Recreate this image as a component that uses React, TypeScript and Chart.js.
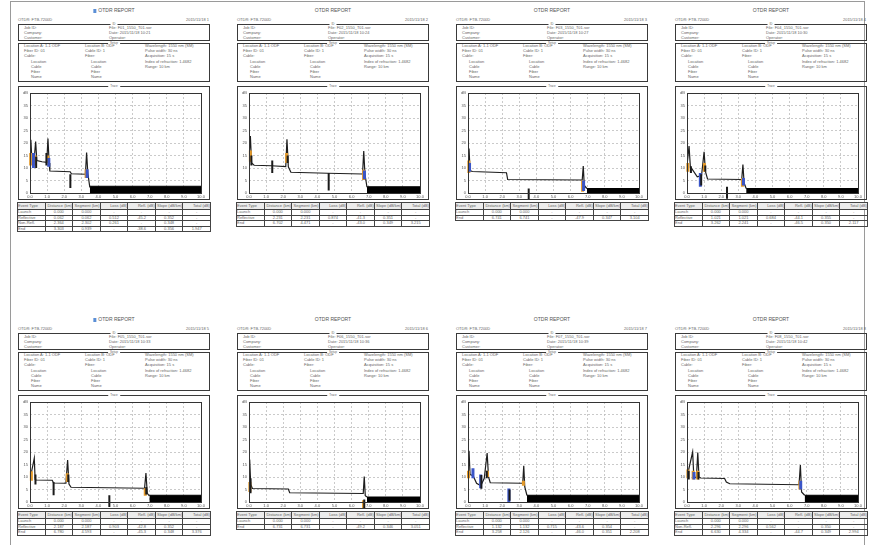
import React, { useEffect, useRef } from 'react';
import { Chart, registerables } from 'chart.js';

Chart.register(...registerables);

type Pt = [number, number];
type Ev = [number, number, number, string];

// ---- axis ticks ----
const distanceLabels = ['0.0', '1.0', '2.0', '3.0', '4.0', '5.0', '6.0', '7.0', '8.0', '9.0', '10.0'];
const levelLabels = ['0', '5', '10', '15', '20', '25', '30', '35', 'dB'];

// ---- traces (distance km, level dB) ----
const trace1: Pt[] = [[0, 12.0], [0.05, 21.3], [0.1, 14.5], [0.25, 14.0], [0.33, 20.6], [0.4, 13.0], [0.7, 12.5], [0.98, 12.3], [1.05, 21.8], [1.12, 12.0], [1.16, 8.8], [2.35, 8.5], [2.42, 7.7], [3.24, 7.5], [3.31, 16.2], [3.38, 8.0], [3.5, 2.2]];
const trace2: Pt[] = [[0, 14.0], [0.08, 22.8], [0.15, 12.0], [0.3, 11.1], [1.3, 10.9], [2.15, 10.6], [2.22, 21.5], [2.3, 10.5], [2.45, 8.3], [4.6, 7.9], [6.64, 7.6], [6.71, 16.8], [6.78, 7.6], [6.9, 2.3]];
const trace3: Pt[] = [[0, 13.0], [0.06, 17.8], [0.12, 9.0], [0.25, 8.6], [2.25, 8.1], [2.32, 5.4], [6.68, 5.2], [6.74, 10.8], [6.8, 3.0], [6.95, 1.8]];
const trace4: Pt[] = [[0, 11.0], [0.12, 18.8], [0.2, 10.0], [0.3, 9.5], [0.6, 6.5], [0.85, 7.0], [1.0, 16.5], [1.08, 8.5], [1.2, 5.6], [3.2, 5.4], [3.27, 11.4], [3.34, 4.0], [3.46, 1.8]];
const trace5: Pt[] = [[0, 9.0], [0.25, 17.5], [0.3, 9.0], [0.35, 8.8], [1.3, 8.7], [1.38, 7.6], [2.1, 7.5], [2.2, 16.8], [2.28, 7.2], [2.4, 5.9], [6.7, 5.5], [6.78, 11.6], [6.86, 3.5], [6.98, 2.4]];
const trace6: Pt[] = [[0, 9.0], [0.04, 17.0], [0.1, 7.0], [0.2, 5.4], [2.3, 5.2], [2.38, 3.7], [6.68, 3.4], [6.74, 10.2], [6.8, 2.5], [6.9, 2.0]];
const trace7: Pt[] = [[0, 10.0], [0.06, 20.5], [0.12, 11.0], [0.3, 10.5], [0.5, 7.5], [0.75, 6.5], [0.95, 9.5], [1.12, 19.6], [1.2, 10.0], [1.3, 7.7], [3.2, 7.5], [3.26, 14.5], [3.32, 6.0], [3.45, 2.6]];
const trace8: Pt[] = [[0, 10.0], [0.33, 20.0], [0.4, 10.0], [0.55, 9.8], [0.63, 19.8], [0.7, 10.0], [0.8, 9.6], [2.2, 9.4], [2.3, 8.0], [2.5, 7.3], [6.55, 6.9], [6.63, 14.8], [6.7, 4.0], [6.88, 2.7]];

// ---- noise floor: start distance, level ----
const noise1: Pt = [3.5, 2.7];
const noise2: Pt = [6.9, 2.5];
const noise3: Pt = [6.95, 1.8];
const noise4: Pt = [3.46, 1.8];
const noise5: Pt = [6.98, 2.7];
const noise6: Pt = [6.9, 2.0];
const noise7: Pt = [3.45, 2.7];
const noise8: Pt = [6.88, 2.7];

// ---- event markers: distance, low dB, high dB, kind (o/b/k) ----
const events1: Ev[] = [[0.04, 11, 16, 'o'], [0.2, 10, 16, 'b'], [0.3, 11, 15, 'o'], [0.36, 10, 14.5, 'k'], [0.96, 11, 16, 'k'], [1.03, 12, 15, 'o'], [1.1, 10.5, 14, 'b'], [2.36, 2, 7.5, 'k'], [3.28, 6, 9.5, 'o'], [3.34, 6, 9.5, 'b']];
const events2: Ev[] = [[0.08, 12.5, 17, 'o'], [0.14, 11, 15, 'k'], [1.36, 8, 13, 'k'], [2.2, 12, 16, 'o'], [2.26, 12, 15, 'k'], [4.66, 1, 8, 'k'], [6.7, 5.2, 9.3, 'o'], [6.75, 5.5, 9, 'b']];
const events3: Ev[] = [[0.05, 8, 13, 'o'], [0.09, 8.5, 12, 'b'], [3.55, -3, 1.8, 'k'], [6.7, 0.5, 5, 'o'], [6.76, 0.8, 5, 'b']];
const events4: Ev[] = [[0.05, 8.5, 12, 'o'], [0.23, 8, 10.7, 'k'], [0.78, 2.5, 8, 'b'], [0.83, 3, 7.5, 'k'], [1.02, 8.5, 12, 'o'], [1.07, 8.5, 11, 'k'], [2.34, -2.3, 2.5, 'k'], [3.24, 2.5, 6, 'o'], [3.3, 3, 6, 'b']];
const events5: Ev[] = [[0.08, 8.5, 12.3, 'o'], [0.32, 7, 11, 'k'], [1.38, 2.7, 8, 'k'], [2.18, 8, 11.5, 'o'], [2.24, 8, 11, 'k'], [4.64, -2, 2.7, 'k'], [6.74, 2.5, 5.5, 'o'], [6.8, 3, 6, 'k']];
const events6: Ev[] = [[0.05, 4, 8, 'o'], [0.09, 3.5, 9.5, 'k'], [6.7, -3.4, 0.7, 'o'], [6.74, -3, 1, 'k']];
const events7: Ev[] = [[0.03, 9.5, 12.5, 'o'], [0.29, 9.5, 13.5, 'b'], [0.74, 5.5, 11, 'b'], [0.78, 5.3, 10.8, 'k'], [1.1, 9.5, 12.5, 'k'], [1.14, 10, 12.5, 'o'], [2.39, 0, 5.4, 'b'], [2.43, 0.5, 5, 'k'], [3.24, 6.5, 8.5, 'o']];
const events8: Ev[] = [[0.05, 9.5, 13, 'o'], [0.1, 9, 12.5, 'k'], [0.36, 9, 12.5, 'o'], [0.41, 9, 12, 'b'], [0.62, 9, 12.5, 'o'], [0.67, 9, 12, 'k'], [6.6, 5, 8.5, 'o'], [6.65, 5, 8.5, 'b']];

// ---- texts ----
const reportTitle = 'OTDR REPORT';
const headerLeft = 'OTDR: FTB-7200D';
const headerDates = ['2015/11/18 1', '2015/11/18 2', '2015/11/18 3', '2015/11/18 4', '2015/11/18 5', '2015/11/18 6', '2015/11/18 7', '2015/11/18 8'];
const jobLabels = ['Job ID:', 'Company:', 'Customer:'];
const fileNames = ['File: F01_1550_T01.sor', 'File: F02_1550_T01.sor', 'File: F03_1550_T01.sor', 'File: F04_1550_T01.sor', 'File: F05_1550_T01.sor', 'File: F06_1550_T01.sor', 'File: F07_1550_T01.sor', 'File: F08_1550_T01.sor'];
const fileDates = ['Date: 2015/11/18 10:21', 'Date: 2015/11/18 10:24', 'Date: 2015/11/18 10:27', 'Date: 2015/11/18 10:30', 'Date: 2015/11/18 10:33', 'Date: 2015/11/18 10:36', 'Date: 2015/11/18 10:39', 'Date: 2015/11/18 10:42'];
const setupColA = ['Location A: 1-1 ODF', 'Fiber ID: 01', 'Cable:'];
const setupColAsub = ['Location', 'Cable', 'Fiber', 'Name'];
const setupColB = ['Location B: ODF', 'Cable ID: 1', 'Fiber:'];
const setupColC = ['Wavelength: 1550 nm (SM)', 'Pulse width: 30 ns', 'Acquisition: 15 s', 'Index of refraction: 1.4682', 'Range: 10 km'];
const tableHeader = ['Event Type', 'Distance (km)', 'Segment (km)', 'Loss (dB)', 'Refl. (dB)', 'Slope (dB/km)', 'Total (dB)'];
const rows1 = [['Launch', '0.000', '0.000', '-', '-', '-', '-'], ['Reflective', '0.062', '0.062', '0.512', '-45.2', '0.352', '-'], ['Non-Refl.', '2.364', '2.302', '0.261', '-', '0.348', '-'], ['End', '3.303', '0.939', '-', '-38.6', '0.356', '1.947']];
const rows2 = [['Launch', '0.000', '0.000', '-', '-', '-', '-'], ['Reflective', '2.231', '2.231', '0.874', '-41.3', '0.351', '-'], ['End', '6.702', '4.471', '-', '-43.0', '0.349', '3.215']];
const rows3 = [['Launch', '0.000', '0.000', '-', '-', '-', '-'], ['End', '6.741', '6.741', '-', '-47.9', '0.347', '3.104']];
const rows4 = [['Launch', '0.000', '0.000', '-', '-', '-', '-'], ['Reflective', '1.021', '1.021', '0.684', '-44.1', '0.355', '-'], ['End', '3.262', '2.241', '-', '-46.5', '0.350', '2.117']];
const rows5 = [['Launch', '0.000', '0.000', '-', '-', '-', '-'], ['Reflective', '2.187', '2.187', '0.903', '-42.8', '0.352', '-'], ['End', '6.780', '4.593', '-', '-45.3', '0.348', '3.376']];
const rows6 = [['Launch', '0.000', '0.000', '-', '-', '-', '-'], ['End', '6.731', '6.731', '-', '-49.2', '0.346', '3.051']];
const rows7 = [['Launch', '0.000', '0.000', '-', '-', '-', '-'], ['Reflective', '1.132', '1.132', '0.715', '-43.6', '0.354', '-'], ['End', '3.258', '2.126', '-', '-46.0', '0.351', '2.208']];
const rows8 = [['Launch', '0.000', '0.000', '-', '-', '-', '-'], ['Non-Refl.', '2.296', '2.296', '0.562', '-', '0.350', '-'], ['End', '6.630', '4.334', '-', '-44.7', '0.349', '2.994']];

const pageLefts = [17, 236, 455, 674];
const rowTops = [10, 319];

const pages = [
  { trace: trace1, noise: noise1, events: events1, rows: rows1 },
  { trace: trace2, noise: noise2, events: events2, rows: rows2 },
  { trace: trace3, noise: noise3, events: events3, rows: rows3 },
  { trace: trace4, noise: noise4, events: events4, rows: rows4 },
  { trace: trace5, noise: noise5, events: events5, rows: rows5 },
  { trace: trace6, noise: noise6, events: events6, rows: rows6 },
  { trace: trace7, noise: noise7, events: events7, rows: rows7 },
  { trace: trace8, noise: noise8, events: events8, rows: rows8 },
];

const markerColors: Record<string, string> = { o: '#e49a2a', b: '#3a55c8', k: '#1a1a1a' };

const framePlugin = {
  id: 'plotFrame',
  afterDatasetsDraw(chart: any) {
    const { ctx, chartArea: a } = chart;
    ctx.save();
    ctx.strokeStyle = '#333';
    ctx.lineWidth = 1;
    ctx.strokeRect(Math.round(a.left) + 0.5, Math.round(a.top) + 0.5, Math.round(a.right - a.left), Math.round(a.bottom - a.top));
    ctx.restore();
  },
};

function buildConfig(idx: number): any {
  const p = pages[idx];
  const markerSets = ['k', 'b', 'o'].map((kind) => ({
    data: p.events
      .filter((e) => e[3] === kind)
      .flatMap((e) => [{ x: e[0], y: e[1] }, { x: e[0], y: e[2] }, { x: e[0], y: null }]),
    borderColor: markerColors[kind],
    borderWidth: kind === 'k' ? 2 : 3,
    pointRadius: 0,
    spanGaps: false,
    fill: false,
    clip: false,
    order: 0,
  }));
  return {
    type: 'line',
    data: {
      datasets: [
        ...markerSets,
        {
          data: p.trace.map(([x, y]) => ({ x, y })),
          borderColor: '#1e1e1e',
          borderWidth: 1.2,
          pointRadius: 0,
          fill: false,
          order: 1,
        },
        {
          data: [{ x: p.noise[0], y: p.noise[1] }, { x: 10, y: p.noise[1] }],
          borderColor: '#000',
          backgroundColor: '#000',
          borderWidth: 1,
          pointRadius: 0,
          fill: 'origin',
          order: 2,
        },
      ],
    },
    options: {
      animation: false,
      responsive: false,
      maintainAspectRatio: false,
      events: [],
      layout: { padding: { top: 6, right: 9, left: 0, bottom: 0 } },
      plugins: { legend: { display: false }, tooltip: { enabled: false } },
      scales: {
        x: {
          type: 'linear',
          min: 0,
          max: 10,
          ticks: {
            stepSize: 1,
            autoSkip: false,
            maxRotation: 0,
            padding: 1,
            color: '#555',
            font: { size: 4, family: 'Liberation Sans, Arial, sans-serif' },
            callback: (_v: any, i: number) => distanceLabels[i],
          },
          grid: { color: '#bdbdbd', drawTicks: false, lineWidth: 0.8 },
          border: { display: false, dash: [2, 2] },
          afterFit: (s: any) => { s.height = 6; },
        },
        y: {
          min: 0,
          max: 40,
          ticks: {
            stepSize: 5,
            padding: 2,
            color: '#555',
            font: { size: 4, family: 'Liberation Sans, Arial, sans-serif' },
            callback: (_v: any, i: number) => levelLabels[i],
          },
          grid: { color: '#bdbdbd', drawTicks: false, lineWidth: 0.8 },
          border: { display: false, dash: [2, 2] },
          afterFit: (s: any) => { s.width = 11; },
        },
      },
    },
    plugins: [framePlugin],
  };
}

const txt: React.CSSProperties = {
  position: 'absolute',
  fontSize: 4,
  lineHeight: '5px',
  whiteSpace: 'nowrap',
  color: '#666',
};

const boxStyle = (left: number, top: number, width: number, height: number): React.CSSProperties => ({
  position: 'absolute',
  left,
  top,
  width,
  height,
  border: '1px solid #3a3a3a',
  boxSizing: 'border-box',
});

function Tab({ x, y, label }: { x: number; y: number; label: string }) {
  return (
    <div style={{ ...txt, left: x, top: y - 2, fontSize: 3, lineHeight: '4px', transform: 'translateX(-50%)', background: '#fff', padding: '0 2px' }}>{label}</div>
  );
}

function Page({ idx }: { idx: number }) {
  const ref = useRef<HTMLCanvasElement>(null);
  const L = pageLefts[idx % 4];
  const T = rowTops[Math.floor(idx / 4)];
  const W = 194;
  const p = pages[idx];

  useEffect(() => {
    const chart = new Chart(ref.current as HTMLCanvasElement, buildConfig(idx));
    return () => chart.destroy();
  }, [idx]);

  const setupRows = [0, 1, 2, 3, 4, 5, 6].map((r) => T + 35 + r * 5.2);

  return (
    <>
      {/* title */}
      <div style={{ ...txt, left: L + W / 2, top: T - 3, fontSize: 5, lineHeight: '6px', color: '#555', transform: 'translateX(-50%)' }}>
        {idx % 4 === 0 ? <span style={{ display: 'inline-block', width: 3, height: 4, background: '#5b8fd6', marginRight: 2, verticalAlign: 'middle' }} /> : null}
        {reportTitle}
      </div>
      <div style={{ ...txt, left: L + 1, top: T + 7 }}>{headerLeft}</div>
      <div style={{ ...txt, left: L + W - 30, width: 28, top: T + 7, textAlign: 'right' }}>{headerDates[idx]}</div>

      {/* box 1 */}
      <div style={boxStyle(L + 1, T + 14, W - 2, 17)} />
      <Tab x={L + W / 2} y={T + 14} label="ID" />
      {jobLabels.map((t, i) => (
        <div key={'j' + i} style={{ ...txt, left: L + 7, top: T + 15 + i * 5 }}>{t}</div>
      ))}
      <div style={{ ...txt, left: L + 92, top: T + 15 }}>{fileNames[idx]}</div>
      <div style={{ ...txt, left: L + 92, top: T + 20 }}>{fileDates[idx]}</div>
      <div style={{ ...txt, left: L + 92, top: T + 25 }}>Operator:</div>

      {/* box 2 */}
      <div style={boxStyle(L + 1, T + 33, W - 2, 39)} />
      <Tab x={L + W / 2} y={T + 33} label="Setup" />
      {setupColA.map((t, i) => (
        <div key={'a' + i} style={{ ...txt, left: L + 7, top: setupRows[i] - 2 }}>{t}</div>
      ))}
      {setupColAsub.map((t, i) => (
        <div key={'as' + i} style={{ ...txt, left: L + 14, top: setupRows[i + 3] - 2 }}>{t}</div>
      ))}
      {setupColB.map((t, i) => (
        <div key={'b' + i} style={{ ...txt, left: L + 68, top: setupRows[i] - 2 }}>{t}</div>
      ))}
      {setupColAsub.map((t, i) => (
        <div key={'bs' + i} style={{ ...txt, left: L + 74, top: setupRows[i + 3] - 2 }}>{t}</div>
      ))}
      {setupColC.map((t, i) => (
        <div key={'c' + i} style={{ ...txt, left: L + 128, top: setupRows[i] - 2 }}>{t}</div>
      ))}

      {/* chart box */}
      <div style={boxStyle(L + 1, T + 76, W - 2, 114)} />
      <Tab x={L + W / 2} y={T + 76} label="Trace" />
      <canvas
        ref={ref}
        width={191}
        height={112}
        style={{ position: 'absolute', left: L + 2, top: T + 77, width: 191, height: 112 }}
      />

      {/* table */}
      <table
        style={{
          position: 'absolute',
          left: L,
          top: T + 192,
          width: W,
          borderCollapse: 'collapse',
          tableLayout: 'fixed',
          fontSize: 4,
          color: '#666',
          fontFamily: 'Liberation Sans, Arial, sans-serif',
          border: '1px solid #333',
        }}
      >
        <tbody>
          <tr>
            {tableHeader.map((h, i) => (
              <td key={i} style={{ height: 6, padding: 0, lineHeight: '4px', background: '#ececec', border: '1px solid #444', textAlign: i === 0 ? 'left' : 'right', whiteSpace: 'nowrap', overflow: 'hidden' }}>{h}</td>
            ))}
          </tr>
          {p.rows.map((r, ri) => (
            <tr key={ri}>
              {r.map((c, ci) => (
                <td key={ci} style={{ height: 4.5, padding: 0, lineHeight: '4px', border: '1px solid #444', textAlign: ci === 0 ? 'left' : 'center', whiteSpace: 'nowrap', overflow: 'hidden' }}>{c}</td>
              ))}
            </tr>
          ))}
        </tbody>
      </table>
    </>
  );
}

export default function App() {
  return (
    <div
      style={{
        position: 'fixed',
        left: 0,
        top: 0,
        width: 879,
        height: 545,
        background: '#fff',
        overflow: 'hidden',
        fontFamily: 'Liberation Sans, Arial, sans-serif',
      }}
    >
      <div style={{ position: 'absolute', left: 10, top: 1, width: 855, height: 560, border: '1px solid #9a9a9a', boxSizing: 'border-box' }} />
      {[0, 1, 2, 3, 4, 5, 6, 7].map((i) => (
        <Page key={i} idx={i} />
      ))}
    </div>
  );
}
